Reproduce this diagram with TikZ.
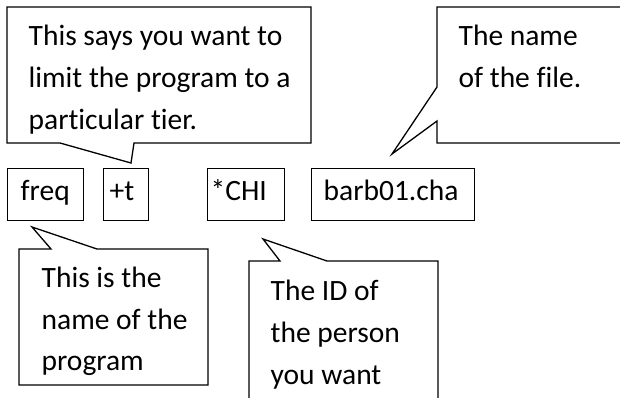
\documentclass[tikz,border=0pt]{standalone}
\usepackage{fontspec}
\setmainfont{Carlito}[Ligatures=NoCommon]
\begin{document}
\begin{tikzpicture}[x=1pt,y=-1pt,line width=1.3pt,line join=miter,
  txt/.style={anchor=base west,inner sep=0pt,align=left,font=\fontsize{29.5}{41.8}\selectfont},
  callout/.style={draw=black,fill=white},
  box/.style={draw=black,anchor=north west,inner sep=0pt,minimum height=52pt}]
\useasboundingbox (0,0) rectangle (620,397);
\begin{scope}
\clip (0,0) rectangle (620,397);
% tips of the callouts
\coordinate (tipA) at (131,163);
\coordinate (tipB) at (392,154);
\coordinate (tipC) at (32,227);
\coordinate (tipD) at (263,239);
% callout 1
\draw[callout] (7,7) -- (311,7) -- (311,143) -- (134,143) -- (tipA) -- (60,143) -- (7,143) -- cycle;
\node[txt] (t1) at (28,129.3) {This says you want to\\limit the program to a\\particular tier.};
% callout 2
\draw[callout] (437,7) -- (640,7) -- (640,143) -- (437,143) -- (437,121) -- (tipB) -- (437,87) -- cycle;
\node[txt] (t2) at (458,87.3) {The name\\of the file.};
% callout 3
\draw[callout] (19,249) -- (51,249) -- (tipC) -- (97,249) -- (208,249) -- (208,385) -- (19,385) -- cycle;
\node[txt] (t3) at (41,370.9) {This is the\\name of the\\program};
% callout 4
\draw[callout] (249,261) -- (280,261) -- (tipD) -- (327,261) -- (438,261) -- (438,420) -- (249,420) -- cycle;
\node[txt] (t4) at (270,384.3) {The ID of\\the person\\you want};
% boxes
\node[box,minimum width=76pt] (freq) at (7,168) {};
\node[box,minimum width=45pt] (plust) at (103,168) {};
\node[box,minimum width=77pt] (chi) at (207,168) {};
\node[box,minimum width=163pt] (barb) at (311,168) {};
\node[txt] (lf) at (20,200) {freq};
\node[txt] (lt) at (109,200) {+t};
\node[txt] (lc) at (210,200) {*CHI};
\node[txt] (lb) at (323,200) {barb01.cha};
\end{scope}
\end{tikzpicture}
\end{document}
